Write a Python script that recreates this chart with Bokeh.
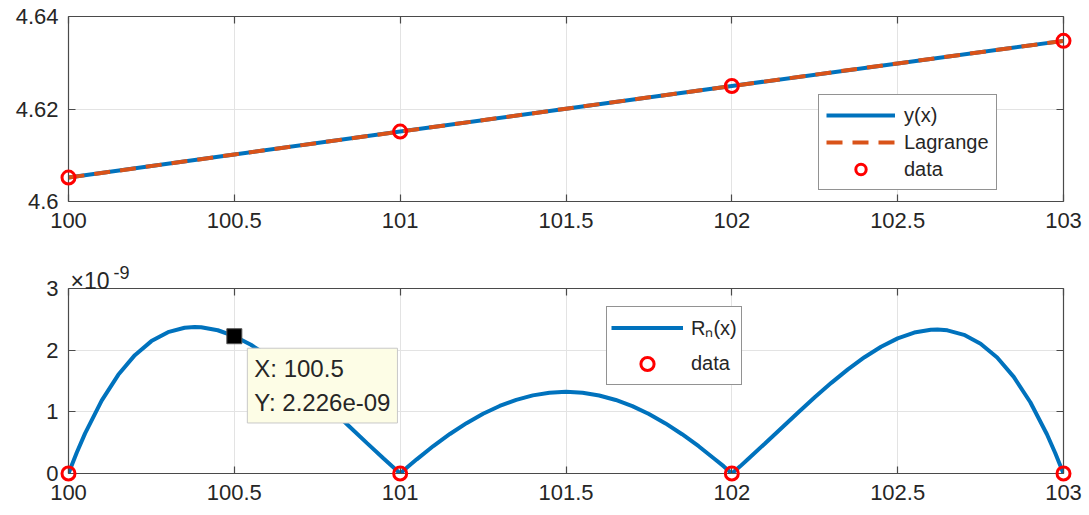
from bokeh.plotting import figure
from bokeh.models import Legend, LegendItem, LinearAxis, FixedTicker, Label, Range1d
from bokeh.core.properties import value
from bokeh.layouts import column
from bokeh.embed import file_html
from bokeh.resources import INLINE

# Interpolation nodes and the function values there
x_nodes = [100, 101, 102, 103]
y_nodes = [4.60517, 4.61512, 4.62497, 4.63473]

# y(x) and the Lagrange polynomial sampled along the interval
x_curve = [100.0, 100.5, 101.0, 101.5, 102.0, 102.5, 103.0]
y_exact = [4.60517, 4.61016, 4.61512, 4.62006, 4.62497, 4.62986, 4.63473]
y_lagrange = [4.60517, 4.61016, 4.61512, 4.62006, 4.62497, 4.62986, 4.63473]

# Remainder |R_n(x)|, in units of 1e-9
x_err = [100.000, 100.025, 100.050, 100.100, 100.150, 100.200, 100.250, 100.300, 100.350,
         100.380, 100.400, 100.450, 100.500, 100.550, 100.600, 100.650, 100.700, 100.750,
         100.800, 100.850, 100.900, 100.950, 100.975, 101.000, 101.025, 101.050, 101.100,
         101.150, 101.200, 101.250, 101.300, 101.350, 101.400, 101.450, 101.500, 101.550,
         101.600, 101.650, 101.700, 101.750, 101.800, 101.850, 101.900, 101.950, 101.975,
         102.000, 102.025, 102.050, 102.100, 102.150, 102.200, 102.250, 102.300, 102.350,
         102.400, 102.450, 102.500, 102.550, 102.600, 102.620, 102.650, 102.700, 102.750,
         102.800, 102.850, 102.900, 102.950, 102.975, 103.000]
rn_e9 = [0.000, 0.341, 0.651, 1.181, 1.600, 1.919, 2.147, 2.292, 2.364,
         2.376, 2.372, 2.323, 2.226, 2.087, 1.913, 1.712, 1.488, 1.250,
         1.001, 0.746, 0.492, 0.242, 0.120, 0.000, 0.117, 0.230, 0.445,
         0.641, 0.816, 0.968, 1.095, 1.195, 1.267, 1.311, 1.325, 1.310,
         1.265, 1.192, 1.092, 0.964, 0.812, 0.637, 0.442, 0.228, 0.119,
         0.000, 0.116, 0.240, 0.487, 0.739, 0.990, 1.235, 1.470, 1.689,
         1.886, 2.056, 2.191, 2.285, 2.331, 2.335, 2.322, 2.249, 2.105,
         1.880, 1.567, 1.155, 0.636, 0.333, 0.000]
err_nodes = [0.0, 0.0, 0.0, 0.0]

# Data tip on the remainder curve
tip_x = 100.5
tip_y = 2.226

# Ticks
x_ticks = [100, 100.5, 101, 101.5, 102, 102.5, 103]
x_tick_labels = ["100", "100.5", "101", "101.5", "102", "102.5", "103"]
y1_ticks = [4.6, 4.62, 4.64]
y1_tick_labels = ["4.6", "4.62", "4.64"]
y2_ticks = [0, 1, 2, 3]
y2_tick_labels = ["0", "1", "2", "3"]

BLUE = "#0072BD"
ORANGE = "#D95319"
RED = "#FF0000"
AX = "#4a4a4a"
TXT = "#262626"
FONT = "Liberation Sans"


def style_axis(ax, ticks, labels=None):
    ax.ticker = FixedTicker(ticks=ticks)
    ax.axis_line_color = AX
    ax.axis_line_width = 1.2
    ax.major_tick_line_color = AX
    ax.major_tick_line_width = 1.2
    ax.major_tick_in = 7
    ax.major_tick_out = 0
    ax.minor_tick_line_color = None
    if labels is None:
        # mirror axis: ticks only
        ax.major_label_text_color = None
        ax.major_label_text_font_size = "1px"
        ax.major_label_standoff = 0
    else:
        ax.major_label_overrides = {t: l for t, l in zip(ticks, labels)}
        ax.major_label_text_font = FONT
        ax.major_label_text_font_size = "22px"
        ax.major_label_text_color = TXT


def make_panel(height, top, bottom, y_range, y_ticks, y_labels):
    p = figure(width=1089, height=height, output_backend="svg", toolbar_location=None,
               x_range=Range1d(100, 103), y_range=y_range,
               min_border_left=68, min_border_right=26,
               min_border_top=top, min_border_bottom=bottom)
    p.outline_line_color = None
    p.background_fill_color = "white"
    p.border_fill_color = "white"
    style_axis(p.xaxis[0], x_ticks, x_tick_labels)
    p.xaxis[0].major_label_standoff = 11
    style_axis(p.yaxis[0], y_ticks, y_labels)
    p.yaxis[0].major_label_standoff = 10
    right = LinearAxis()
    style_axis(right, y_ticks)
    p.add_layout(right, "right")
    above = LinearAxis()
    style_axis(above, x_ticks)
    p.add_layout(above, "above")
    p.xgrid.ticker = FixedTicker(ticks=x_ticks)
    p.ygrid.ticker = FixedTicker(ticks=y_ticks)
    for g in (p.xgrid[0], p.ygrid[0]):
        g.grid_line_color = "#e3e3e3"
        g.grid_line_width = 1
    return p


def style_legend(lg):
    lg.border_line_color = TXT
    lg.border_line_width = 1
    lg.background_fill_color = "white"
    lg.background_fill_alpha = 1
    lg.label_text_font = FONT
    lg.label_text_font_size = "20px"
    lg.label_text_color = TXT
    lg.margin = 0


# ---- top panel: function and interpolant ----
p1 = make_panel(255, 16, 54, Range1d(4.6, 4.64), y1_ticks, y1_tick_labels)
r_exact = p1.line(x_curve, y_exact, color=BLUE, line_width=4)
r_lag = p1.line(x_curve, y_lagrange, color=ORANGE, line_width=4, line_dash="16 10")
r_dat = p1.scatter(x_nodes, y_nodes, marker="circle", size=13, fill_color=None,
                   line_color=RED, line_width=3, level="overlay")
lg1 = Legend(items=[LegendItem(label="y(x)", renderers=[r_exact]),
                    LegendItem(label="Lagrange", renderers=[r_lag]),
                    LegendItem(label="data", renderers=[r_dat])],
             location=(750, 11), padding=7, spacing=1, glyph_width=69,
             glyph_height=26, label_height=26, label_standoff=9)
style_legend(lg1)
p1.add_layout(lg1)

# ---- bottom panel: interpolation remainder ----
p2 = make_panel(260, 33, 42, Range1d(0, 3), y2_ticks, y2_tick_labels)
r_err = p2.line(x_err, rn_e9, color=BLUE, line_width=4)
r_dat2 = p2.scatter(x_nodes, err_nodes, marker="circle", size=13, fill_color=None,
                    line_color=RED, line_width=3, level="overlay")
p2.scatter([tip_x], [tip_y], marker="square", size=15, fill_color="black",
           line_color="#555555", line_width=1)
lg2 = Legend(items=[LegendItem(label="Rₙ(x)", renderers=[r_err]),
                    LegendItem(label="data", renderers=[r_dat2])],
             location=(538, 88), padding=4, spacing=3, glyph_width=72,
             glyph_height=33, label_height=33, label_standoff=8)
style_legend(lg2)
p2.add_layout(lg2)

tip = Label(x=tip_x, y=tip_y, x_offset=13, y_offset=-12, anchor="top_left",
            text=f"X: {tip_x}\nY: {tip_y * 1e-9:.3e}",
            text_font=FONT, text_font_size="24px", text_color=TXT,
            text_line_height=1.25,
            background_fill_color="#fdfde6", background_fill_alpha=1,
            border_line_color="#c8c8c8", border_line_width=1, padding=7)
p2.add_layout(tip)

# exponent of the y axis, above its top end (overlay level so it is not clipped)
p2.text(x=[100], y=[3], text=["×10"], x_offset=2, y_offset=-8,
        text_font=value(FONT), text_font_size="23px", text_color=TXT,
        text_baseline="alphabetic", text_align="left", level="overlay")
p2.text(x=[100], y=[3], text=["-9"], x_offset=45, y_offset=-16,
        text_font=value(FONT), text_font_size="18px", text_color=TXT,
        text_baseline="alphabetic", text_align="left", level="overlay")

layout = column(p1, p2, spacing=0)
open("out.html", "w").write(file_html(layout, INLINE))
